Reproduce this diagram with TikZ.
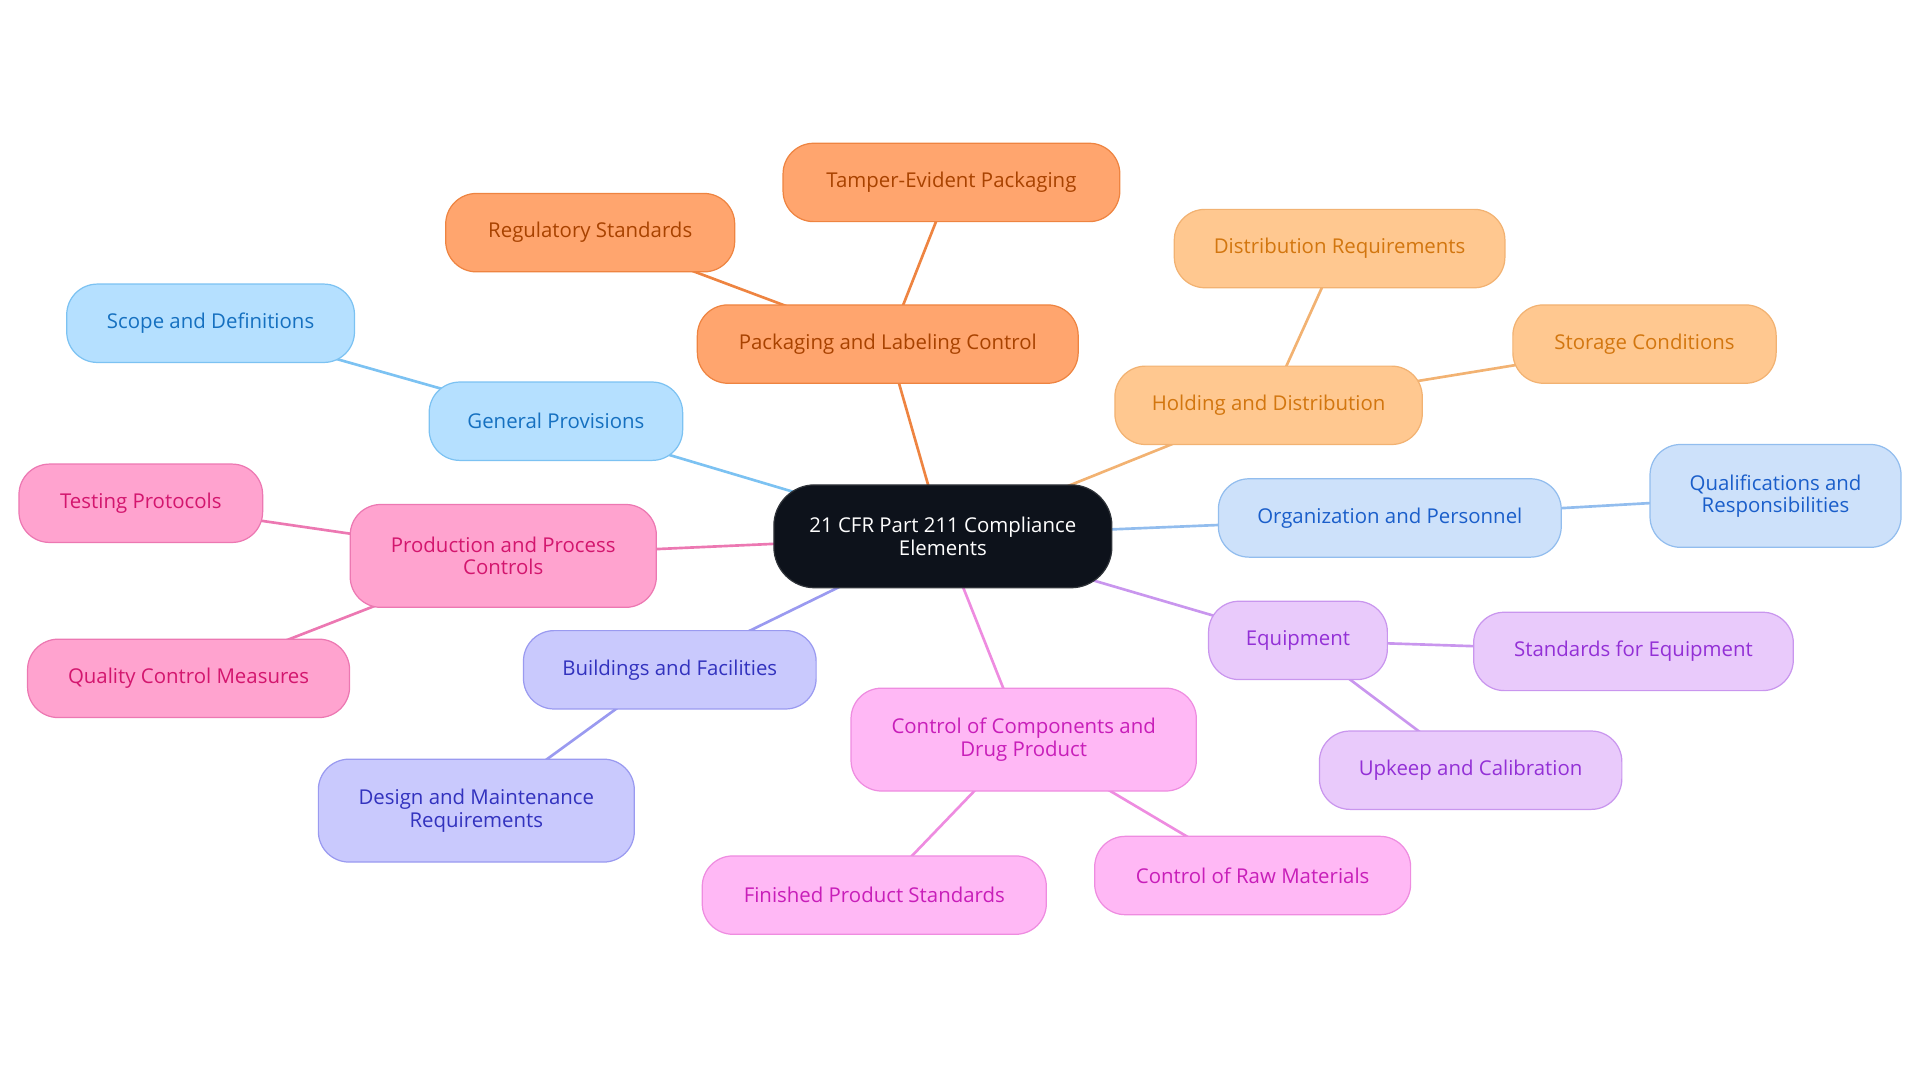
\documentclass[tikz,border=0pt]{standalone}
\usepackage{fontspec}
\setmainfont{Open Sans}
\usetikzlibrary{backgrounds}
\definecolor{cbg}{HTML}{0D121B}
\definecolor{bF}{HTML}{B5E0FF}\definecolor{bD}{HTML}{7CC2F2}\definecolor{bT}{HTML}{1570C0}
\definecolor{oF}{HTML}{FFA56E}\definecolor{oD}{HTML}{EE8441}\definecolor{oT}{HTML}{A84200}
\definecolor{yF}{HTML}{FFC890}\definecolor{yD}{HTML}{F2B272}\definecolor{yT}{HTML}{D2760F}
\definecolor{lF}{HTML}{CDE1FA}\definecolor{lD}{HTML}{92BDEE}\definecolor{lT}{HTML}{1A5ECA}
\definecolor{vF}{HTML}{E9CAFB}\definecolor{vD}{HTML}{C996EE}\definecolor{vT}{HTML}{9330D6}
\definecolor{mF}{HTML}{FFB8F5}\definecolor{mD}{HTML}{EE8CE0}\definecolor{mT}{HTML}{C81EB9}
\definecolor{iF}{HTML}{C9C9FD}\definecolor{iD}{HTML}{9A9AF0}\definecolor{iT}{HTML}{3232BE}
\definecolor{pF}{HTML}{FFA3CF}\definecolor{pD}{HTML}{EC78B2}\definecolor{pT}{HTML}{D3166E}
\tikzset{
 box/.style n args={3}{draw=#2,fill=#1,text=#3,rounded corners=15pt,line width=0.6pt,align=center,font=\fontsize{10}{11}\selectfont,inner sep=2pt},
 bx/.style n args={5}{box={#3}{#4}{#5},minimum width=#1*0.6pt,minimum height=#2*0.6pt},
 ln/.style={line width=1.3pt,draw=#1}
}
\begin{document}
\begin{tikzpicture}[x=0.6pt,y=-0.6pt]
\useasboundingbox (0,0) rectangle (1568,884);
\node[bx={276}{84}{cbg}{cbg!70!gray}{white},rounded corners=20pt] (c) at (770,438) {21 CFR Part 211 Compliance\\Elements};
\node[bx={207}{64}{bF}{bD}{bT}] (gp) at (454,344) {General Provisions};
\node[bx={235}{64}{bF}{bD}{bT}] (sd) at (172,264) {Scope and Definitions};
\node[bx={311}{64}{oF}{oD}{oT}] (pl) at (725,281) {Packaging and Labeling Control};
\node[bx={236}{64}{oF}{oD}{oT}] (rs) at (482,190) {Regulatory Standards};
\node[bx={275}{64}{oF}{oD}{oT}] (te) at (777,149) {Tamper-Evident Packaging};
\node[bx={251}{64}{yF}{yD}{yT}] (hd) at (1036,331) {Holding and Distribution};
\node[bx={270}{64}{yF}{yD}{yT}] (dr) at (1094,203) {Distribution Requirements};
\node[bx={215}{64}{yF}{yD}{yT}] (sc) at (1343,281) {Storage Conditions};
\node[bx={280}{64}{lF}{lD}{lT}] (op) at (1135,423) {Organization and Personnel};
\node[bx={205}{84}{lF}{lD}{lT}] (qr) at (1450,405) {Qualifications and\\Responsibilities};
\node[bx={146}{64}{vF}{vD}{vT}] (eq) at (1060,523) {Equipment};
\node[bx={261}{64}{vF}{vD}{vT}] (se) at (1334,532) {Standards for Equipment};
\node[bx={247}{64}{vF}{vD}{vT}] (uc) at (1201,629) {Upkeep and Calibration};
\node[bx={282}{84}{mF}{mD}{mT}] (cc) at (836,604) {Control of Components and\\Drug Product};
\node[bx={281}{64}{mF}{mD}{mT}] (fp) at (714,731) {Finished Product Standards};
\node[bx={258}{64}{mF}{mD}{mT}] (rm) at (1023,715) {Control of Raw Materials};
\node[bx={239}{64}{iF}{iD}{iT}] (bf) at (547,547) {Buildings and Facilities};
\node[bx={258}{84}{iF}{iD}{iT}] (dm) at (389,662) {Design and Maintenance\\Requirements};
\node[bx={250}{84}{pF}{pD}{pT}] (pp) at (411,454) {Production and Process\\Controls};
\node[bx={199}{64}{pF}{pD}{pT}] (tp) at (115,411) {Testing Protocols};
\node[bx={263}{64}{pF}{pD}{pT}] (qc) at (154,554) {Quality Control Measures};
\begin{scope}[on background layer]
\draw[ln=bD] (c.center)--(gp.center)--(sd.center);
\draw[ln=oD] (c.center)--(pl.center)--(rs.center);
\draw[ln=oD] (pl.center)--(te.center);
\draw[ln=yD] (c.center)--(hd.center)--(dr.center);
\draw[ln=yD] (hd.center)--(sc.center);
\draw[ln=lD] (c.center)--(op.center)--(qr.center);
\draw[ln=vD] (c.center)--(eq.center)--(se.center);
\draw[ln=vD] (eq.center)--(uc.center);
\draw[ln=mD] (c.center)--(cc.center)--(fp.center);
\draw[ln=mD] (cc.center)--(rm.center);
\draw[ln=iD] (c.center)--(bf.center)--(dm.center);
\draw[ln=pD] (c.center)--(pp.center)--(tp.center);
\draw[ln=pD] (pp.center)--(qc.center);
\end{scope}
\end{tikzpicture}
\end{document}
